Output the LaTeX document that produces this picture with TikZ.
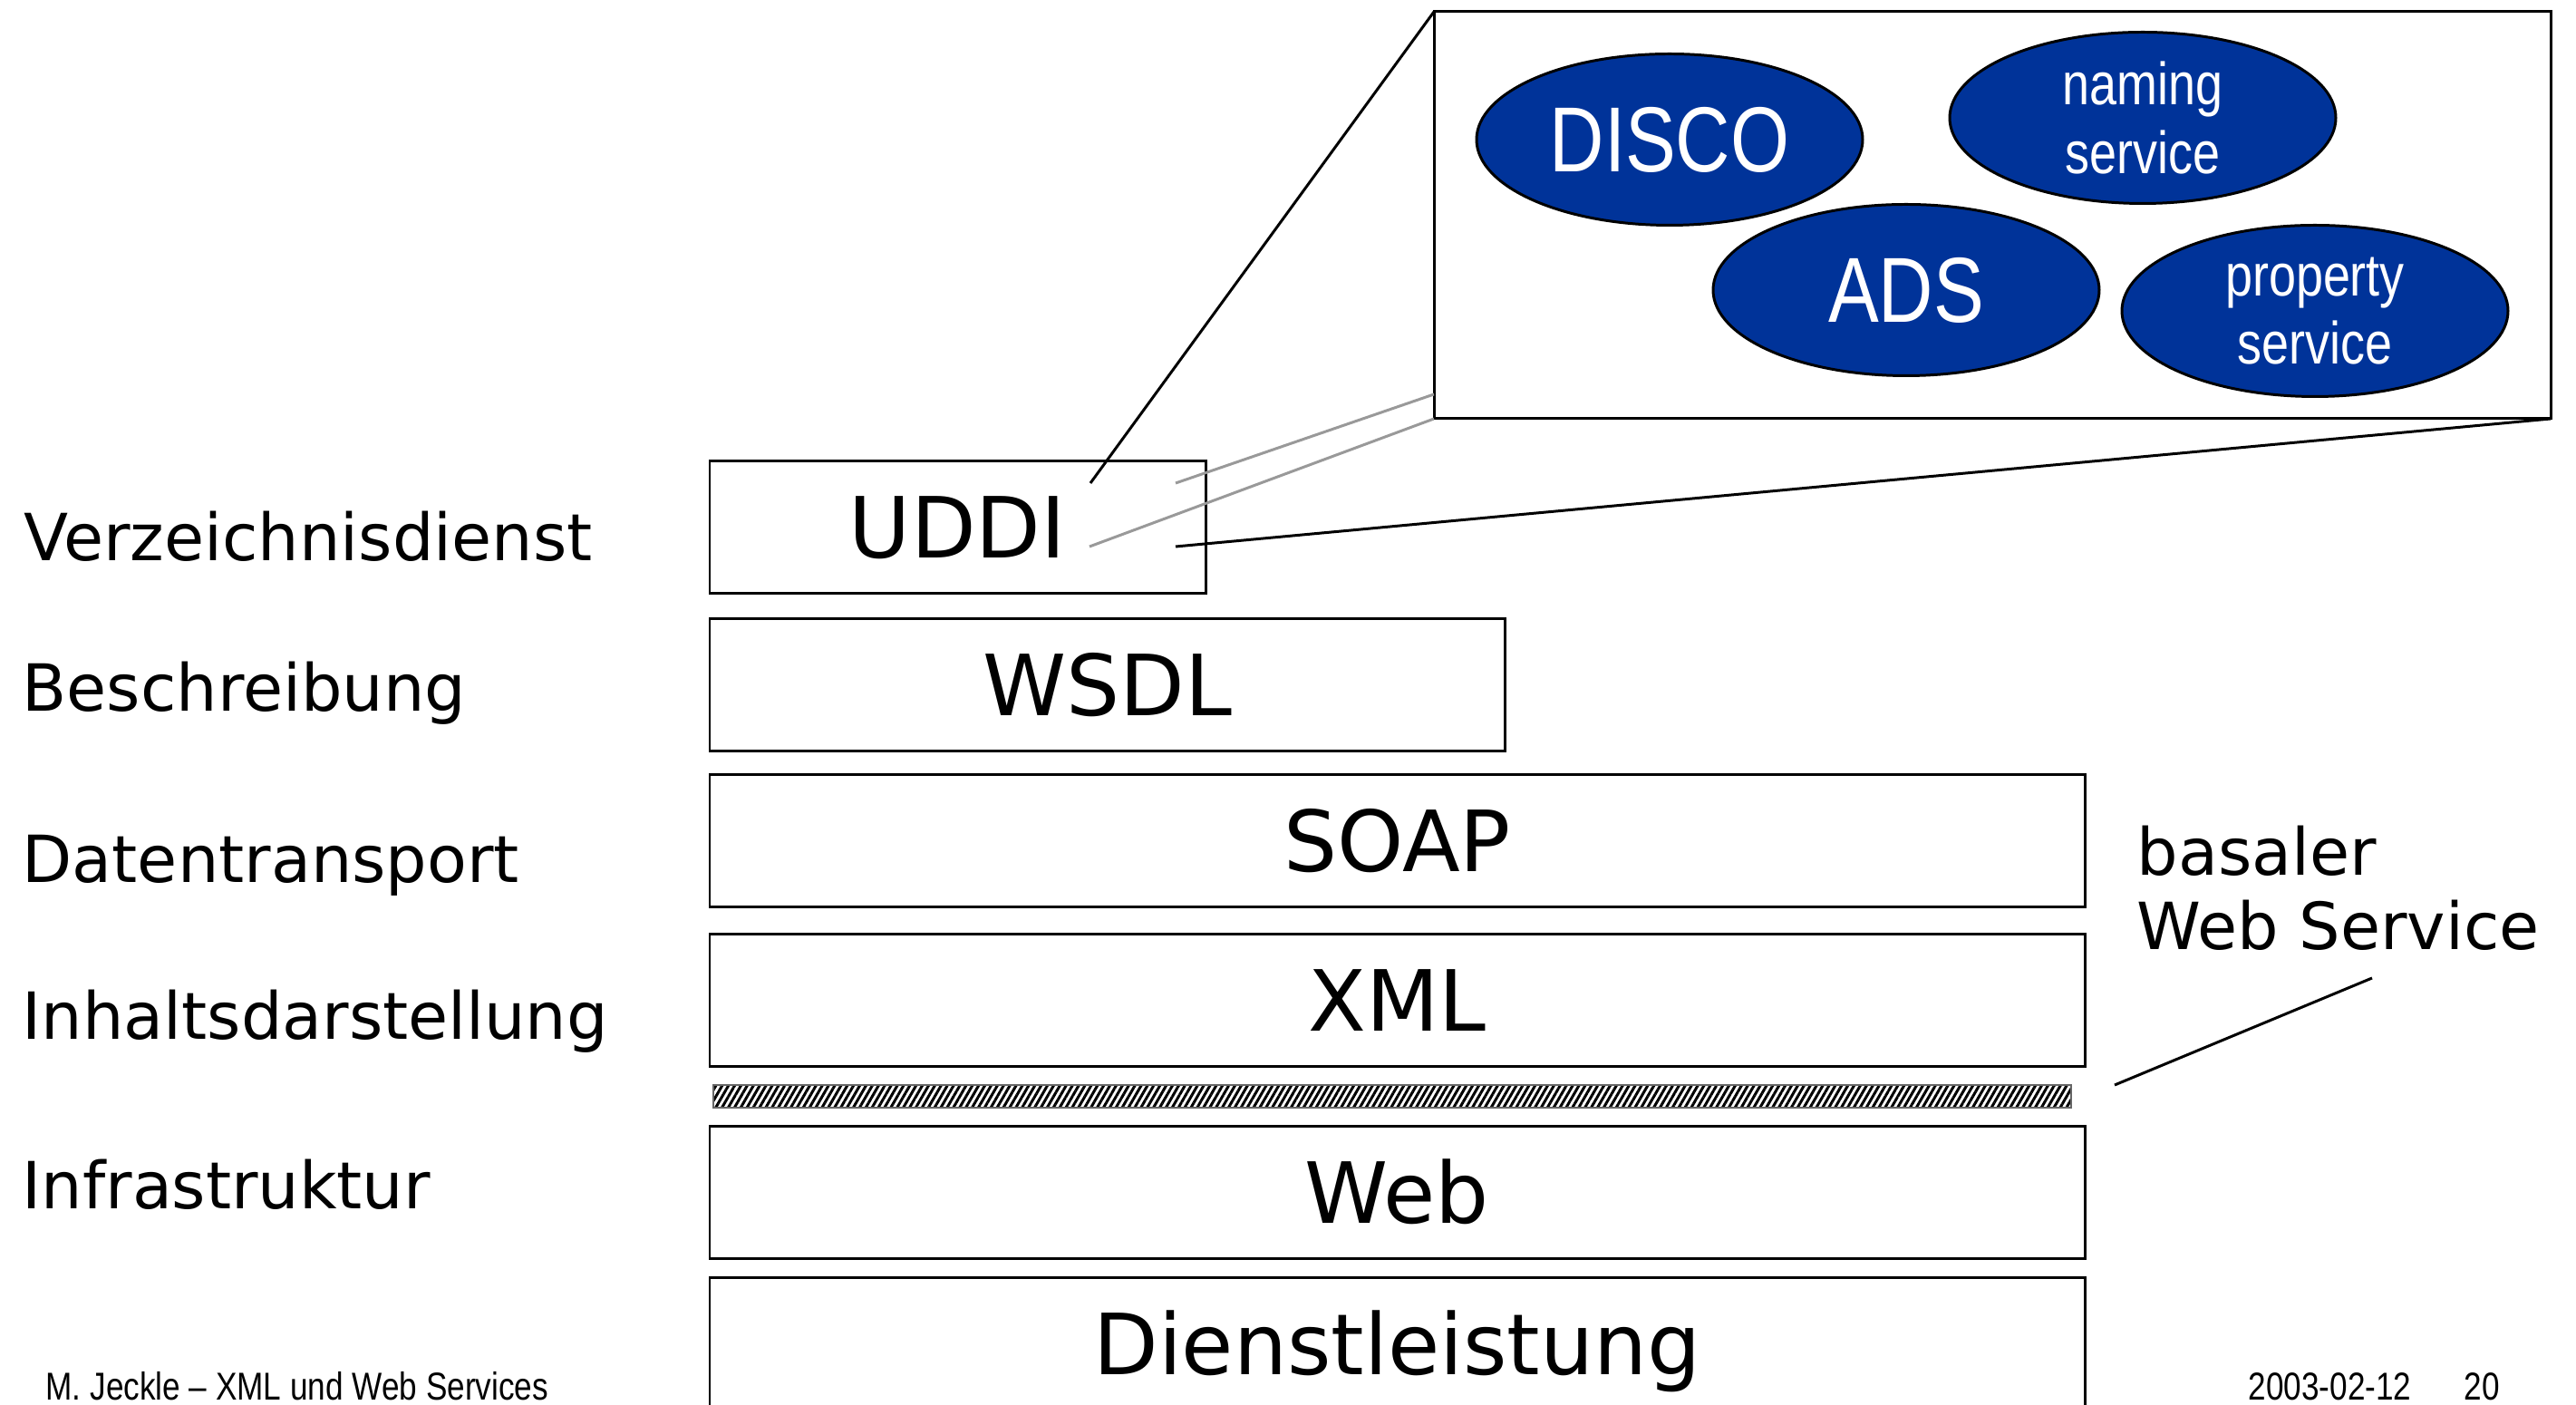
\documentclass[tikz,border=0pt]{standalone}
\usepackage{fontspec}
\setmainfont{DejaVu Sans}
\newfontfamily\narrowfont[FakeStretch=0.82]{Liberation Sans}
\usetikzlibrary{shapes.geometric,patterns.meta}
\definecolor{dienstblau}{RGB}{0,51,153}

\begin{document}
\begin{tikzpicture}[
    schicht/.style={draw, line width=0.85pt, inner sep=0pt, outer sep=0pt, minimum height=1.46cm,
        text height=19.3pt, text depth=0pt, font=\fontsize{26.5}{30}\selectfont},
    ebene/.style={anchor=base west, inner sep=0pt, align=left, font=\fontsize{20.4}{23.5}\selectfont},
    dienst/.style={ellipse, draw, line width=0.85pt, fill=dienstblau, text=white, inner sep=0pt,
        minimum width=4.26cm, minimum height=1.89cm, align=center},
    fuss/.style={anchor=base west, inner sep=0pt, font=\narrowfont\fontsize{12.2}{14}\selectfont},
    verbindung/.style={line width=0.85pt}]
        \useasboundingbox (0,0) rectangle (28.42,15.5);
        \clip (0,0) rectangle (28.42,15.5);
        % Schichten
        \node[schicht, minimum width=5.47cm] (uddi) at (10.565,9.685) {UDDI};
        \node[schicht, minimum width=8.77cm] (wsdl) at (12.215,7.945) {WSDL};
        \node[schicht, minimum width=15.17cm] (soap) at (15.415,6.225) {SOAP};
        \node[schicht, minimum width=15.17cm] (xml) at (15.415,4.465) {XML};
        \node[draw=black!60, line width=0.5pt, inner sep=0pt, minimum width=14.98cm, minimum height=0.25cm,
            pattern={Lines[angle=60, distance=1.7pt, line width=0.85pt]}] (trenner) at (15.36,3.405) {};
        \node[schicht, minimum width=15.17cm] (web) at (15.415,2.345) {Web};
        \node[schicht, minimum width=15.17cm] (dienstl) at (15.415,0.67) {Dienstleistung};
        % Ebenen
        \node[ebene] (verz) at (0.26,9.31) {Verzeichnisdienst};
        \node[ebene] (beschr) at (0.24,7.65) {Beschreibung};
        \node[ebene] (transp) at (0.24,5.76) {Datentransport};
        \node[ebene] (inhalt) at (0.24,4.03) {Inhaltsdarstellung};
        \node[ebene] (infra) at (0.24,2.16) {Infrastruktur};
        \node[ebene] (basal) at (23.57,5.02) {basaler\\Web Service};
        % Lupe
        \node[draw, line width=0.85pt, inner sep=0pt, outer sep=0pt, minimum width=12.32cm,
            minimum height=4.49cm] (lupe) at (21.98,13.125) {};
        \node[dienst, font=\narrowfont\fontsize{29}{33}\selectfont] (disco) at (18.42,13.96) {DISCO};
        \node[dienst, font=\narrowfont\fontsize{18.7}{21.5}\selectfont] (naming) at (23.64,14.20) {naming\\service};
        \node[dienst, font=\narrowfont\fontsize{29}{33}\selectfont] (ads) at (21.03,12.30) {ADS};
        \node[dienst, font=\narrowfont\fontsize{18.7}{21.5}\selectfont] (property) at (25.54,12.07) {property\\service};
        \coordinate (lupe-w) at (15.82,11.15);
        \coordinate (uddi-a) at (12.03,10.17);
        \coordinate (uddi-b) at (12.97,10.17);
        \coordinate (uddi-c) at (12.02,9.47);
        \coordinate (uddi-d) at (12.97,9.47);
        \draw[verbindung] (lupe.north west) -- (uddi-a);
        \draw[verbindung, black!40] (lupe-w) -- (uddi-b);
        \draw[verbindung, black!40] (lupe.south west) -- (uddi-c);
        \draw[verbindung] (lupe.south east) -- (uddi-d);
        % basaler Web Service
        \coordinate (basal-a) at (26.17,4.71);
        \coordinate (basal-b) at (23.33,3.53);
        \draw[verbindung] (basal-a) -- (basal-b);
        % Fusszeile
        \node[fuss] (autor) at (0.50,0.05) {M. Jeckle – XML und Web Services};
        \node[fuss] (datum) at (24.80,0.05) {2003-02-12};
        \node[fuss] (seite) at (27.18,0.05) {20};
    \end{tikzpicture}
\end{document}
